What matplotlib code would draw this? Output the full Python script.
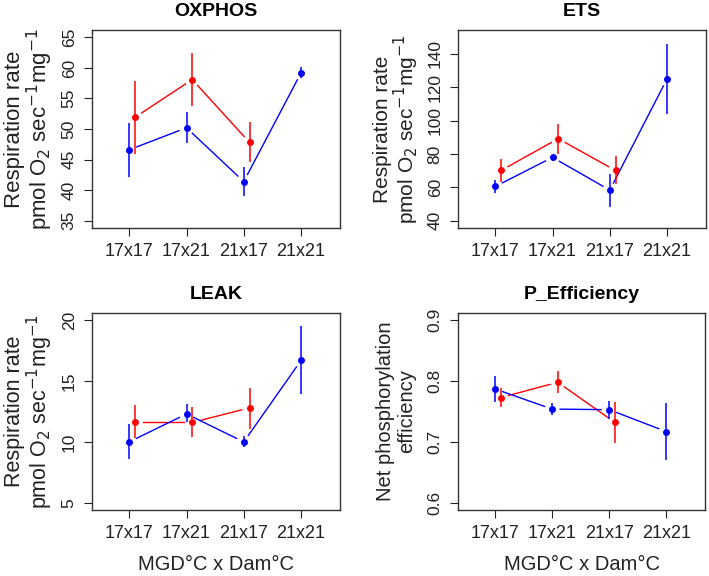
import numpy as np
import matplotlib.pyplot as plt

plt.rcParams['font.family'] = ['Liberation Sans', 'DejaVu Sans']

# Data: means and error bar limits
groups = ["17x17", "17x21", "21x17", "21x21"]

oxphos_blue = [46.6, 50.2, 41.4, 59.2]
oxphos_blue_lo = [42.2, 47.7, 39.0, 58.4]
oxphos_blue_hi = [51.0, 52.8, 43.8, 60.2]
oxphos_red = [51.9, 58.1, 47.8]
oxphos_red_lo = [45.9, 53.7, 44.6]
oxphos_red_hi = [57.8, 62.5, 51.1]

ets_blue = [60.5, 78.0, 58.3, 125.1]
ets_blue_lo = [56.7, 75.7, 48.4, 104.3]
ets_blue_hi = [64.1, 79.6, 68.1, 145.8]
ets_red = [70.1, 89.2, 70.1]
ets_red_lo = [63.1, 79.8, 62.1]
ets_red_hi = [76.7, 98.2, 78.6]

leak_blue = [10.0, 12.3, 10.0, 16.7]
leak_blue_lo = [8.6, 11.6, 9.6, 13.9]
leak_blue_hi = [11.5, 13.1, 10.5, 19.5]
leak_red = [11.6, 11.6, 12.8]
leak_red_lo = [10.3, 10.4, 11.1]
leak_red_hi = [13.0, 12.9, 14.4]

peff_blue = [0.787, 0.754, 0.753, 0.717]
peff_blue_lo = [0.766, 0.744, 0.738, 0.670]
peff_blue_hi = [0.808, 0.764, 0.768, 0.764]
peff_red = [0.773, 0.798, 0.732]
peff_red_lo = [0.758, 0.781, 0.699]
peff_red_hi = [0.788, 0.816, 0.765]

W, H = 709, 576
fig = plt.figure(figsize=(W / 100, H / 100), dpi=100)


def box(l, t, r, b):
    return [l / W, 1 - b / H, (r - l) / W, (b - t) / H]


def gapped_line(ax, x, y, color, gap=8):
    # R type="b": segments stop short of the points
    pts = ax.transData.transform(np.column_stack([x, y]))
    inv = ax.transData.inverted()
    for p0, p1 in zip(pts[:-1], pts[1:]):
        d = p1 - p0
        n = np.hypot(*d)
        if n <= 2 * gap:
            continue
        u = d / n
        a, b = inv.transform([p0 + u * gap, p1 - u * gap])
        ax.plot([a[0], b[0]], [a[1], b[1]], color=color, lw=1.0)


def panel(rect, title, yl, yt, ylabel, ylab_fs, blue, blo, bhi, red, rlo, rhi, xlab,
          ls=1.0, lpad=5):
    ax = fig.add_axes(rect)
    ax.set_xlim(0.35, 4.68)
    span = yl[1] - yl[0]
    ax.set_ylim(yl[0] - 0.04 * span, yl[1] + 0.04 * span)
    xb = np.arange(1, len(blue) + 1)
    xr = np.arange(1, len(red) + 1) + 0.1
    gapped_line(ax, xr, red, '#ff0000')
    gapped_line(ax, xb, blue, '#0000ff')
    ax.vlines(xr, rlo, rhi, color='#ff0000', lw=1.1)
    ax.vlines(xb, blo, bhi, color='#0000ff', lw=1.1)
    ax.plot(xr, red, 'o', color='#ff0000', ms=5, mew=0)
    ax.plot(xb, blue, 'o', color='#0000ff', ms=5, mew=0)
    ax.set_xticks(np.arange(1, 5))
    ax.set_xticklabels(groups, fontsize=13)
    ax.set_yticks(yt)
    ax.set_yticklabels([('%g' % v) for v in yt], fontsize=12.5, rotation=90, va='center')
    ax.tick_params(length=6, width=0.8, pad=5, colors='#222222', labelcolor='#222222')
    for s in ax.spines.values():
        s.set_color('#333333')
        s.set_linewidth(1.0)
    ax.set_title(title, fontsize=14, fontweight='bold', pad=10)
    ax.set_ylabel(ylabel, fontsize=ylab_fs, labelpad=lpad, linespacing=ls, color='#222222')
    if xlab:
        ax.set_xlabel("MGD°C x Dam°C", fontsize=14.5, labelpad=9, color='#222222')
    return ax


resp = "Respiration rate\npmol O$_2$ sec$^{-1}$mg$^{-1}$"

panel(box(92, 30, 340, 228), "OXPHOS", (35, 65), [35, 40, 45, 50, 55, 60, 65], resp, 16,
      oxphos_blue, oxphos_blue_lo, oxphos_blue_hi, oxphos_red, oxphos_red_lo, oxphos_red_hi, False)
panel(box(458, 30, 706, 228), "ETS", (40, 150), [40, 60, 80, 100, 120, 140], resp, 15,
      ets_blue, ets_blue_lo, ets_blue_hi, ets_red, ets_red_lo, ets_red_hi, False)
panel(box(92, 313, 340, 510), "LEAK", (5, 20), [5, 10, 15, 20], resp, 15.5,
      leak_blue, leak_blue_lo, leak_blue_hi, leak_red, leak_red_lo, leak_red_hi, True)
panel(box(458, 313, 705, 510), "P_Efficiency", (0.6, 0.9), [0.6, 0.7, 0.8, 0.9],
      "Net phosphorylation\nefficiency", 14.5,
      peff_blue, peff_blue_lo, peff_blue_hi, peff_red, peff_red_lo, peff_red_hi, True,
      ls=1.15, lpad=8)

fig.savefig("out.png", dpi=100)
